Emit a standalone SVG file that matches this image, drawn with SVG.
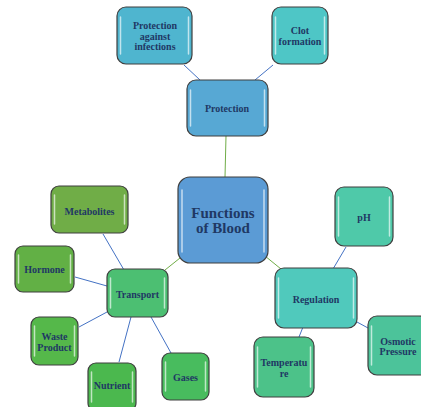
<svg xmlns="http://www.w3.org/2000/svg" width="421" height="407" viewBox="0 0 421 407">
<style>
.box{stroke:#3f3f3f;stroke-width:1.2}
.hl{fill:none;stroke:#ffffff;stroke-opacity:0.65;stroke-width:1.5;stroke-linecap:round}
.t{font-family:"Liberation Serif","Times New Roman",serif;font-weight:bold;font-size:10px;fill:#1f3864;text-anchor:middle}
.big{font-size:15px}
.b{stroke:#4472c4;stroke-width:1;fill:none}
.g{stroke:#70ad47;stroke-width:1;fill:none}
</style>
<rect width="421" height="407" fill="#ffffff"/>
<g id="connectors">
<line class="g" x1="226" y1="136" x2="225" y2="177"/>
<line class="g" x1="165" y1="270" x2="180" y2="258"/>
<line class="g" x1="265" y1="256" x2="281" y2="269"/>
<line class="b" x1="184" y1="65" x2="200" y2="80"/>
<line class="b" x1="273" y1="65" x2="255" y2="80"/>
<line class="b" x1="103" y1="234" x2="124" y2="270"/>
<line class="b" x1="75" y1="277" x2="107" y2="286"/>
<line class="b" x1="79" y1="327" x2="107" y2="312"/>
<line class="b" x1="119" y1="362" x2="131" y2="317"/>
<line class="b" x1="151" y1="317" x2="171" y2="353"/>
<line class="b" x1="346" y1="247" x2="333" y2="269"/>
<line class="b" x1="303" y1="327" x2="299" y2="337"/>
<line class="b" x1="357" y1="322" x2="368" y2="328"/>
</g>
<g id="central">
<rect class="box" x="178" y="177" width="90" height="86" rx="12" fill="#5b9bd5"/>
<path class="hl" d="M182 190 V252 M264 190 V252"/>
<text class="t big" x="223" y="218">Functions</text>
<text class="t big" x="223" y="233">of Blood</text>
</g>
<g id="protection">
<rect class="box" x="187" y="80" width="81" height="56" rx="9" fill="#57a8d4"/>
<path class="hl" d="M190.5 90 V126 M264.5 90 V126"/>
<text class="t" x="227" y="111.5">Protection</text>
</g>
<g id="protection-against-infections">
<rect class="box" x="117" y="7" width="75" height="57" rx="9" fill="#4fb5cf"/>
<path class="hl" d="M120.5 17 V54 M188.5 17 V54"/>
<text class="t" x="155" y="29">Protection</text>
<text class="t" x="155" y="39.5">against</text>
<text class="t" x="155" y="50">infections</text>
</g>
<g id="clot-formation">
<rect class="box" x="272" y="7" width="56" height="57" rx="9" fill="#4ec6c6"/>
<path class="hl" d="M275.5 17 V54 M324.5 17 V54"/>
<text class="t" x="300" y="34">Clot</text>
<text class="t" x="300" y="45">formation</text>
</g>
<g id="transport">
<rect class="box" x="107" y="269" width="61" height="48" rx="8" fill="#4cbf72"/>
<path class="hl" d="M110.5 278 V308 M164.5 278 V308"/>
<text class="t" x="137.5" y="297.5">Transport</text>
</g>
<g id="metabolites">
<rect class="box" x="51" y="186" width="77" height="47" rx="8" fill="#70ad47"/>
<path class="hl" d="M54.5 195 V224 M124.5 195 V224"/>
<text class="t" x="89.5" y="214.5">Metabolites</text>
</g>
<g id="hormone">
<rect class="box" x="15" y="246" width="59" height="46" rx="8" fill="#62b045"/>
<path class="hl" d="M18.5 255 V283 M70.5 255 V283"/>
<text class="t" x="44.5" y="272.5">Hormone</text>
</g>
<g id="waste-product">
<rect class="box" x="31" y="317" width="47" height="48" rx="8" fill="#55b84a"/>
<path class="hl" d="M34.5 326 V356 M74.5 326 V356"/>
<text class="t" x="54.5" y="339.5">Waste</text>
<text class="t" x="54.5" y="350.5">Product</text>
</g>
<g id="nutrient">
<rect class="box" x="88" y="363" width="48" height="48" rx="8" fill="#4bb84e"/>
<path class="hl" d="M91.5 372 V402 M132.5 372 V402"/>
<text class="t" x="112" y="388.5">Nutrient</text>
</g>
<g id="gases">
<rect class="box" x="162" y="353" width="47" height="47" rx="8" fill="#48bc5e"/>
<path class="hl" d="M165.5 362 V391 M205.5 362 V391"/>
<text class="t" x="185.5" y="380.5">Gases</text>
</g>
<g id="regulation">
<rect class="box" x="275" y="268" width="82" height="60" rx="9" fill="#50c9bc"/>
<path class="hl" d="M278.5 278 V318 M353.5 278 V318"/>
<text class="t" x="316" y="302.5">Regulation</text>
</g>
<g id="ph">
<rect class="box" x="335" y="187" width="58" height="59" rx="9" fill="#4fc9a9"/>
<path class="hl" d="M338.5 197 V236 M389.5 197 V236"/>
<text class="t" x="364" y="220.5">pH</text>
</g>
<g id="osmotic-pressure">
<rect class="box" x="368" y="316" width="60" height="59" rx="9" fill="#4cc39a"/>
<path class="hl" d="M371.5 326 V365"/>
<text class="t" x="398" y="344.5">Osmotic</text>
<text class="t" x="398" y="354.5">Pressure</text>
</g>
<g id="temperature">
<rect class="box" x="254" y="337" width="60" height="60" rx="9" fill="#4cc289"/>
<path class="hl" d="M257.5 347 V387 M310.5 347 V387"/>
<text class="t" x="284" y="365.5">Temperatu</text>
<text class="t" x="284" y="376.5">re</text>
</g>
</svg>
